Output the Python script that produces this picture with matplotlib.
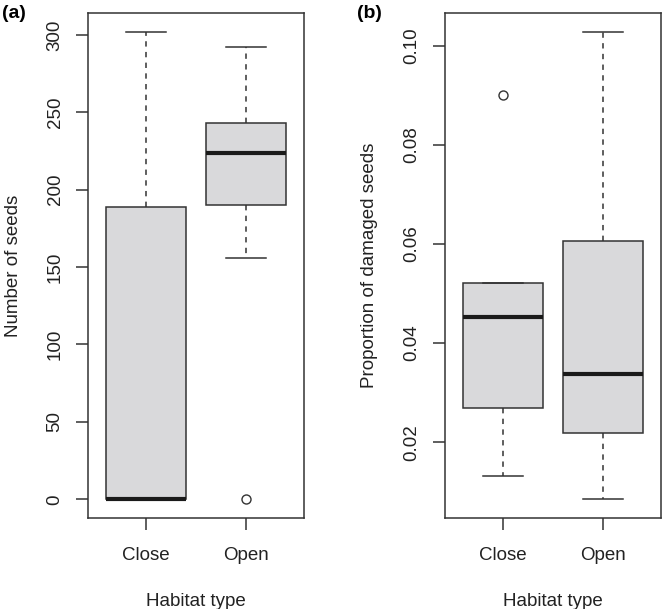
import matplotlib
matplotlib.use('Agg')
import matplotlib.pyplot as plt

plt.rcParams['font.family'] = ['Liberation Sans', 'DejaVu Sans']

habitats = ['Close', 'Open']

# panel (a): number of seeds
seeds_whislo = [0, 156]
seeds_q1 = [0, 190]
seeds_med = [0, 224]
seeds_q3 = [189, 243]
seeds_whishi = [302, 292]
seeds_fliers = [[], [0]]

# panel (b): proportion of damaged seeds
dmg_whislo = [0.0133, 0.0085]
dmg_q1 = [0.0269, 0.0218]
dmg_med = [0.0452, 0.0337]
dmg_q3 = [0.0521, 0.0607]
dmg_whishi = [0.0521, 0.1028]
dmg_fliers = [[0.0900], []]

line_col = '#333333'
box_fill = '#d9d9db'


def make_stats(lo, q1, med, q3, hi, fl):
    return [dict(label=habitats[i], whislo=lo[i], q1=q1[i], med=med[i],
                 q3=q3[i], whishi=hi[i], fliers=fl[i]) for i in range(len(habitats))]


def draw(ax, stats, ylim, yticks, yticklabels, ylabel, tag, tagx):
    ax.bxp(stats, positions=[1, 2], widths=0.8, capwidths=0.4,
           patch_artist=True, showfliers=True,
           boxprops=dict(facecolor=box_fill, edgecolor=line_col, linewidth=1.1),
           medianprops=dict(color='#1a1a1a', linewidth=3, solid_capstyle='butt'),
           whiskerprops=dict(color=line_col, linewidth=1.1, linestyle=(0, (3.5, 3.5))),
           capprops=dict(color=line_col, linewidth=1.1),
           flierprops=dict(marker='o', markerfacecolor='none', markeredgecolor=line_col,
                           markersize=6.5, markeredgewidth=1.0))
    ax.set_xlim(0.42, 2.58)
    ax.set_ylim(*ylim)
    ax.set_yticks(yticks)
    ax.set_yticklabels(yticklabels, rotation=90, va='center', fontsize=13.5, color='#222222')
    ax.set_xticks([1, 2])
    ax.set_xticklabels(habitats, fontsize=13.5, color='#222222')
    for s in ax.spines.values():
        s.set_color(line_col)
        s.set_linewidth(1.1)
    ax.tick_params(axis='both', length=8.5, width=1.1, color=line_col)
    ax.tick_params(axis='y', pad=9)
    ax.tick_params(axis='x', pad=12.5)
    ax.set_xlabel('Habitat type', fontsize=13.5, labelpad=20.5, color='#222222')
    ax.set_ylabel(ylabel, fontsize=13.5, labelpad=18, color='#222222')
    ax.figure.text(tagx, 0.978, tag, fontsize=14, fontweight='bold', va='center', ha='left')


fig = plt.figure(figsize=(6.64, 6.09), dpi=100)
ax1 = fig.add_axes([0.1325, 0.1494, 0.3258, 0.8292])
ax2 = fig.add_axes([0.6697, 0.1494, 0.3253, 0.8292])

draw(ax1, make_stats(seeds_whislo, seeds_q1, seeds_med, seeds_q3, seeds_whishi, seeds_fliers),
     (-12.08, 314.08), [0, 50, 100, 150, 200, 250, 300],
     ['0', '50', '100', '150', '200', '250', '300'], 'Number of seeds', '(a)', 0.003)

draw(ax2, make_stats(dmg_whislo, dmg_q1, dmg_med, dmg_q3, dmg_whishi, dmg_fliers),
     (0.00473, 0.1066), [0.02, 0.04, 0.06, 0.08, 0.10],
     ['0.02', '0.04', '0.06', '0.08', '0.10'], 'Proportion of damaged seeds', '(b)', 0.538)

fig.savefig('out.png', dpi=100)
